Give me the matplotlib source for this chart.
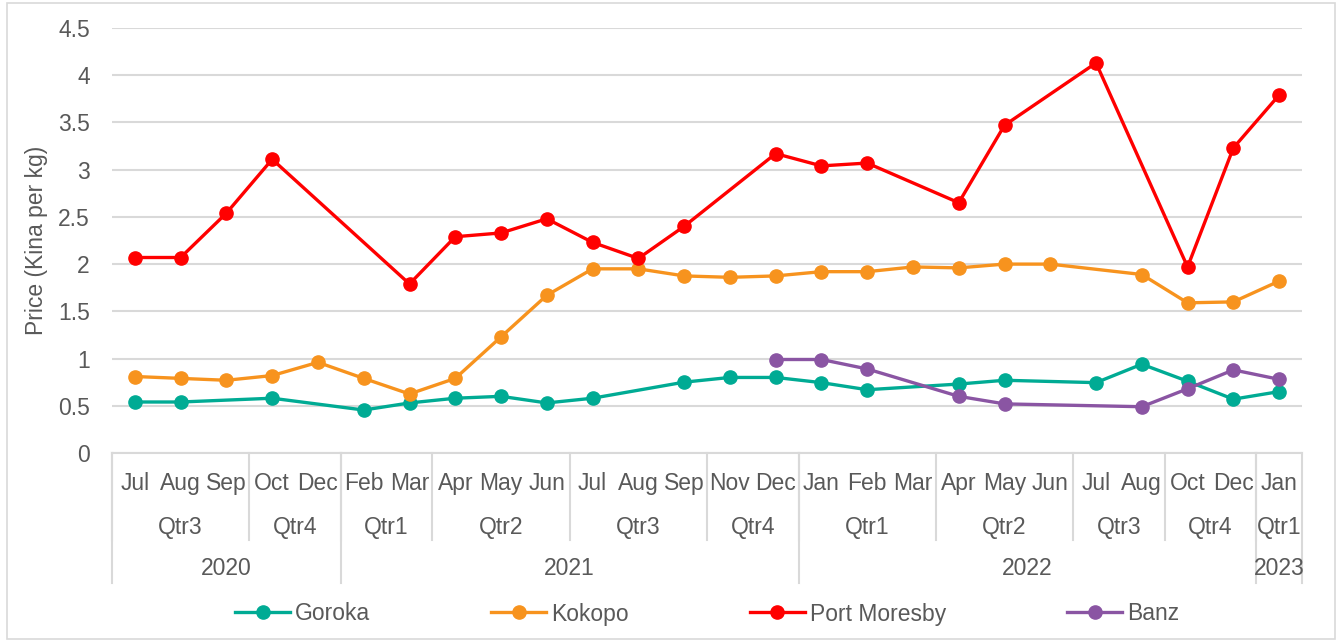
import numpy as np
import matplotlib
matplotlib.use('Agg')
import matplotlib.pyplot as plt
from matplotlib.patches import Rectangle
import matplotlib.transforms as mtransforms

# categories
months = ['Jul', 'Aug', 'Sep', 'Oct', 'Dec',
          'Feb', 'Mar', 'Apr', 'May', 'Jun', 'Jul', 'Aug', 'Sep', 'Nov', 'Dec',
          'Jan', 'Feb', 'Mar', 'Apr', 'May', 'Jun', 'Jul', 'Aug', 'Oct', 'Dec',
          'Jan']
qtrs = ['Qtr3', 'Qtr4', 'Qtr1', 'Qtr2', 'Qtr3', 'Qtr4', 'Qtr1', 'Qtr2', 'Qtr3', 'Qtr4', 'Qtr1']
qtr_sizes = [3, 2, 2, 3, 3, 2, 3, 3, 2, 2, 1]
years = ['2020', '2021', '2022', '2023']
year_sizes = [5, 10, 10, 1]

nan = np.nan
goroka = [0.54, 0.54, nan, 0.58, nan,
          0.455, 0.53, 0.58, 0.60, 0.53, 0.58, nan, 0.75, 0.80, 0.80,
          0.745, 0.67, nan, 0.73, 0.77, nan, 0.745, 0.94, 0.76, 0.57,
          0.65]
kokopo = [0.81, 0.79, 0.77, 0.82, 0.96,
          0.79, 0.625, 0.79, 1.23, 1.67, 1.95, 1.95, 1.875, 1.86, 1.875,
          1.92, 1.92, 1.97, 1.96, 2.00, 2.00, nan, 1.89, 1.59, 1.60,
          1.82]
port_moresby = [2.07, 2.07, 2.54, 3.11, nan,
                nan, 1.79, 2.29, 2.33, 2.48, 2.23, 2.06, 2.40, nan, 3.17,
                3.04, 3.07, nan, 2.65, 3.47, nan, 4.13, nan, 1.97, 3.23,
                3.79]
banz = [nan, nan, nan, nan, nan,
        nan, nan, nan, nan, nan, nan, nan, nan, nan, 0.99,
        0.99, 0.89, nan, 0.60, 0.52, nan, nan, 0.49, 0.68, 0.88,
        0.78]

series = [('Goroka', goroka, '#00AB94'),
          ('Kokopo', kokopo, '#F7931E'),
          ('Port Moresby', port_moresby, '#FF0000'),
          ('Banz', banz, '#8A55A3')]

plt.rcParams['font.family'] = ['Liberation Sans', 'DejaVu Sans']

txt = '#595959'
grid = '#D9D9D9'
fs = 16.5

fig = plt.figure(figsize=(13.38, 6.42), dpi=100)
ax = fig.add_axes([112/1338, 1 - 453/642, 1190/1338, 425/642])

x = np.arange(len(months))
for name, vals, col in series:
    v = np.array(vals, dtype=float)
    m = ~np.isnan(v)
    ax.plot(x[m], v[m], color=col, lw=2.4, marker='o', ms=9.5, label=name)

ax.set_xlim(-0.5, len(months) - 0.5)
ax.set_ylim(0, 4.5)
ax.set_yticks(np.arange(0, 4.51, 0.5))
ax.set_yticklabels(['0', '0.5', '1', '1.5', '2', '2.5', '3', '3.5', '4', '4.5'])
ax.tick_params(axis='y', length=0, pad=16, labelsize=fs, labelcolor=txt)
ax.set_xticks([])
ax.yaxis.grid(True, color=grid, lw=1.5)
ax.set_axisbelow(True)
for s in ['left', 'right', 'top']:
    ax.spines[s].set_visible(False)
ax.spines['bottom'].set_color(grid)
ax.spines['bottom'].set_linewidth(1.5)
ax.set_ylabel('Price (Kina per kg)', fontsize=fs, color=txt, labelpad=7)

# multi-level category axis
tr = mtransforms.blended_transform_factory(ax.transData, ax.transAxes)
y_month, y_qtr, y_year = -0.072, -0.176, -0.272
y_qline, y_yline = -0.205, -0.306
for i, mo in enumerate(months):
    ax.text(i, y_month, mo, transform=tr, ha='center', va='center',
            fontsize=fs, color=txt)

start = 0
for q, n in zip(qtrs, qtr_sizes):
    ax.text(start + (n - 1) / 2, y_qtr, q, transform=tr, ha='center', va='center',
            fontsize=fs, color=txt)
    ax.plot([start - 0.5, start - 0.5], [0, y_qline], transform=tr, color=grid,
            lw=1.5, clip_on=False)
    start += n

start = 0
for yr, n in zip(years, year_sizes):
    ax.text(start + (n - 1) / 2, y_year, yr, transform=tr, ha='center', va='center',
            fontsize=fs, color=txt)
    ax.plot([start - 0.5, start - 0.5], [0, y_yline], transform=tr, color=grid,
            lw=1.5, clip_on=False)
    start += n
ax.plot([start - 0.5, start - 0.5], [0, y_yline], transform=tr, color=grid,
        lw=1.5, clip_on=False)

leg = fig.legend(loc='center', bbox_to_anchor=(707/1338, 1 - 614/642), ncol=4,
                 frameon=False, fontsize=fs, handlelength=2.4, columnspacing=5.3,
                 handletextpad=0.2)
for t in leg.get_texts():
    t.set_color(txt)

fig.patches.append(Rectangle((7/1338, 3/642), 1 - 10/1338, 1 - 6/642,
                             transform=fig.transFigure, fill=False,
                             edgecolor=grid, lw=1.2))

fig.savefig('out.png', dpi=100)
